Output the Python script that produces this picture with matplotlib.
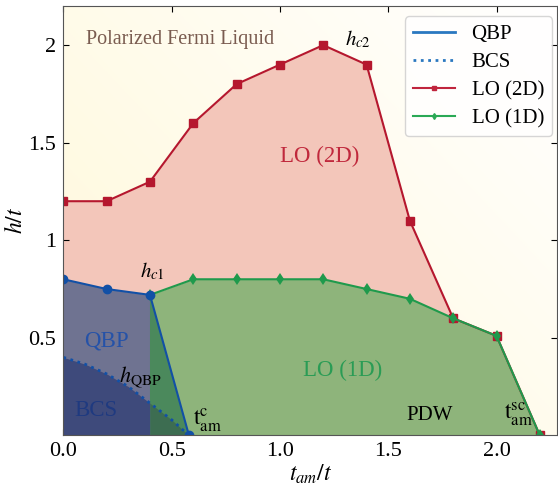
"""Phase diagram h/t vs t_am/t: QBP / BCS / LO (2D) / LO (1D) regions."""
import numpy as np
import matplotlib
matplotlib.use('Agg')
import matplotlib.pyplot as plt
from matplotlib.lines import Line2D
from matplotlib.colors import to_rgb

plt.rcParams['font.family'] = ['Liberation Serif', 'DejaVu Serif']
plt.rcParams['mathtext.fontset'] = 'stix'

# ---------- data ----------
x_lo2d = [0.0, 0.2, 0.4, 0.6, 0.8, 1.0, 1.2, 1.4, 1.6, 1.8, 2.0, 2.2]
h_lo2d = [1.2, 1.2, 1.3, 1.6, 1.8, 1.9, 2.0, 1.9, 1.1, 0.6, 0.51, 0.0]

x_lo1d = [0.4, 0.6, 0.8, 1.0, 1.2, 1.4, 1.6, 1.8, 2.0, 2.2]
h_lo1d = [0.72, 0.8, 0.8, 0.8, 0.8, 0.75, 0.7, 0.6, 0.51, 0.0]

x_qbp = [0.0, 0.2, 0.4, 0.58]
h_qbp = [0.8, 0.75, 0.72, 0.0]

x_bcs = [0.0, 0.1, 0.2, 0.3, 0.4, 0.5, 0.58]
h_bcs = [0.40, 0.365, 0.315, 0.25, 0.165, 0.08, 0.0]

RED, GREEN, BLUE = '#b5172e', '#1f9a4c', '#1250a6'
C_PINK, C_GREEN = '#f3c6ba', '#8eb47b'
C_QBP, C_BCS = '#6f7391', '#3e4a7b'
C_TRI, C_TRI_BCS = '#4b895c', '#3d6d51'


def main():
    fig = plt.figure(figsize=(5.58, 4.87), dpi=100)
    ax = fig.add_axes([0.1135, 0.106, 0.885, 0.8815])
    xmax, ymax = 2.28, 2.2

    # background: pale yellow top-left fading to white bottom-right
    gx, gy = np.meshgrid(np.linspace(0, 1, 200), np.linspace(0, 1, 200))
    t = np.clip(0.55 * gx + 0.45 * gy, 0, 1)[..., None]
    yel, wht = np.array(to_rgb('#fff8d8')), np.array(to_rgb('#ffffff'))
    ax.imshow(yel * (1 - t) + wht * t, extent=[0, xmax, ymax, 0],
              aspect='auto', zorder=0)

    # filled regions
    ax.fill_between(x_lo2d, h_lo2d, 0, color=C_PINK, lw=0, zorder=1)
    ax.fill_between(x_lo1d, h_lo1d, 0, color=C_GREEN, lw=0, zorder=2)
    ax.fill_between(x_qbp[:3], h_qbp[:3], 0, color=C_QBP, lw=0, zorder=3)
    ax.fill([x_qbp[2], x_qbp[2], x_qbp[3]], [0, h_qbp[2], h_qbp[3]],
            color=C_TRI, lw=0, zorder=3)
    ax.fill_between(x_bcs[:5], h_bcs[:5], 0, color=C_BCS, lw=0, zorder=4)
    ax.fill_between(x_bcs[4:], h_bcs[4:], 0, color=C_TRI_BCS, lw=0, zorder=4)

    # phase boundaries
    ax.plot(x_lo2d, h_lo2d, color=RED, lw=1.5, marker='s', ms=6, zorder=5)
    ax.plot(x_lo1d, h_lo1d, color=GREEN, lw=1.5, marker='d', ms=6,
            mew=0, zorder=6)
    ax.plot(x_qbp, h_qbp, color=BLUE, lw=1.5, marker='o', ms=6, zorder=7)
    ax.plot(x_bcs, h_bcs, color=BLUE, lw=2, ls=':', zorder=7)

    # region labels
    ax.text(0.105, 2.03, 'Polarized Fermi Liquid', color='#7a5c50',
            fontsize=14.5, va='center', zorder=8)
    ax.text(1.36, 2.03, '$h_{c2}$', fontsize=15, ha='center', va='center')
    ax.text(1.185, 1.43, 'LO (2D)', color='#c0283c', fontsize=16.5,
            ha='center', va='center', zorder=8)
    ax.text(0.41, 0.84, '$h_{c1}$', fontsize=15, ha='center', va='center',
            zorder=8)
    ax.text(0.2, 0.485, 'QBP', color='#2552a8', fontsize=16.5,
            ha='center', va='center', zorder=8)
    ax.text(0.355, 0.3, r'$h_{\mathrm{QBP}}$', fontsize=16, ha='center',
            va='center', zorder=8)
    ax.text(0.15, 0.13, 'BCS', color='#1f3a80', fontsize=16.5,
            ha='center', va='center', zorder=8)
    ax.text(0.6, 0.08, r'$\mathrm{t}_{\mathrm{am}}^{\mathrm{c}}$',
            fontsize=17, ha='left', va='center', zorder=8)
    ax.text(1.29, 0.335, 'LO (1D)', color='#2a9c55', fontsize=16.5,
            ha='center', va='center', zorder=8)
    ax.text(1.69, 0.1, 'PDW', fontsize=15, ha='center', va='center',
            zorder=8)
    ax.text(2.1, 0.11, r'$\mathrm{t}_{\mathrm{am}}^{\mathrm{sc}}$',
            fontsize=17, ha='center', va='center', zorder=8)

    handles = [Line2D([], [], color='#2a78c0', lw=2),
               Line2D([], [], color='#2a78c0', lw=2, ls=':'),
               Line2D([], [], color='#c0253d', lw=1.5, marker='s', ms=3),
               Line2D([], [], color='#2aa955', lw=1.5, marker='d', ms=3)]
    leg = ax.legend(handles, ['QBP', 'BCS', 'LO (2D)', 'LO (1D)'],
                    loc='upper right', bbox_to_anchor=(0.99, 0.976),
                    borderaxespad=0, fontsize=15, labelspacing=0.4)
    leg.set_zorder(10)

    ax.set_xlim(0, xmax)
    ax.set_ylim(0, ymax)
    ax.set_xticks([0.0, 0.5, 1.0, 1.5, 2.0])
    ax.set_xticklabels(['0.0', '0.5', '1.0', '1.5', '2.0'])
    ax.set_yticks([0.5, 1, 1.5, 2])
    ax.set_yticklabels(['0.5', '1', '1.5', '2'])
    ax.tick_params(direction='in', top=True, right=True, labelsize=16,
                   length=4, pad=5)
    ax.set_xlabel('$t_{am}/t$', fontsize=17, labelpad=1)
    ax.set_ylabel('$h/t$', fontsize=17, labelpad=1)
    for sp in ax.spines.values():
        sp.set_color('#555555')
        sp.set_zorder(9)

    fig.savefig('out.png', dpi=100)
    plt.close(fig)


if __name__ == '__main__':
    main()
